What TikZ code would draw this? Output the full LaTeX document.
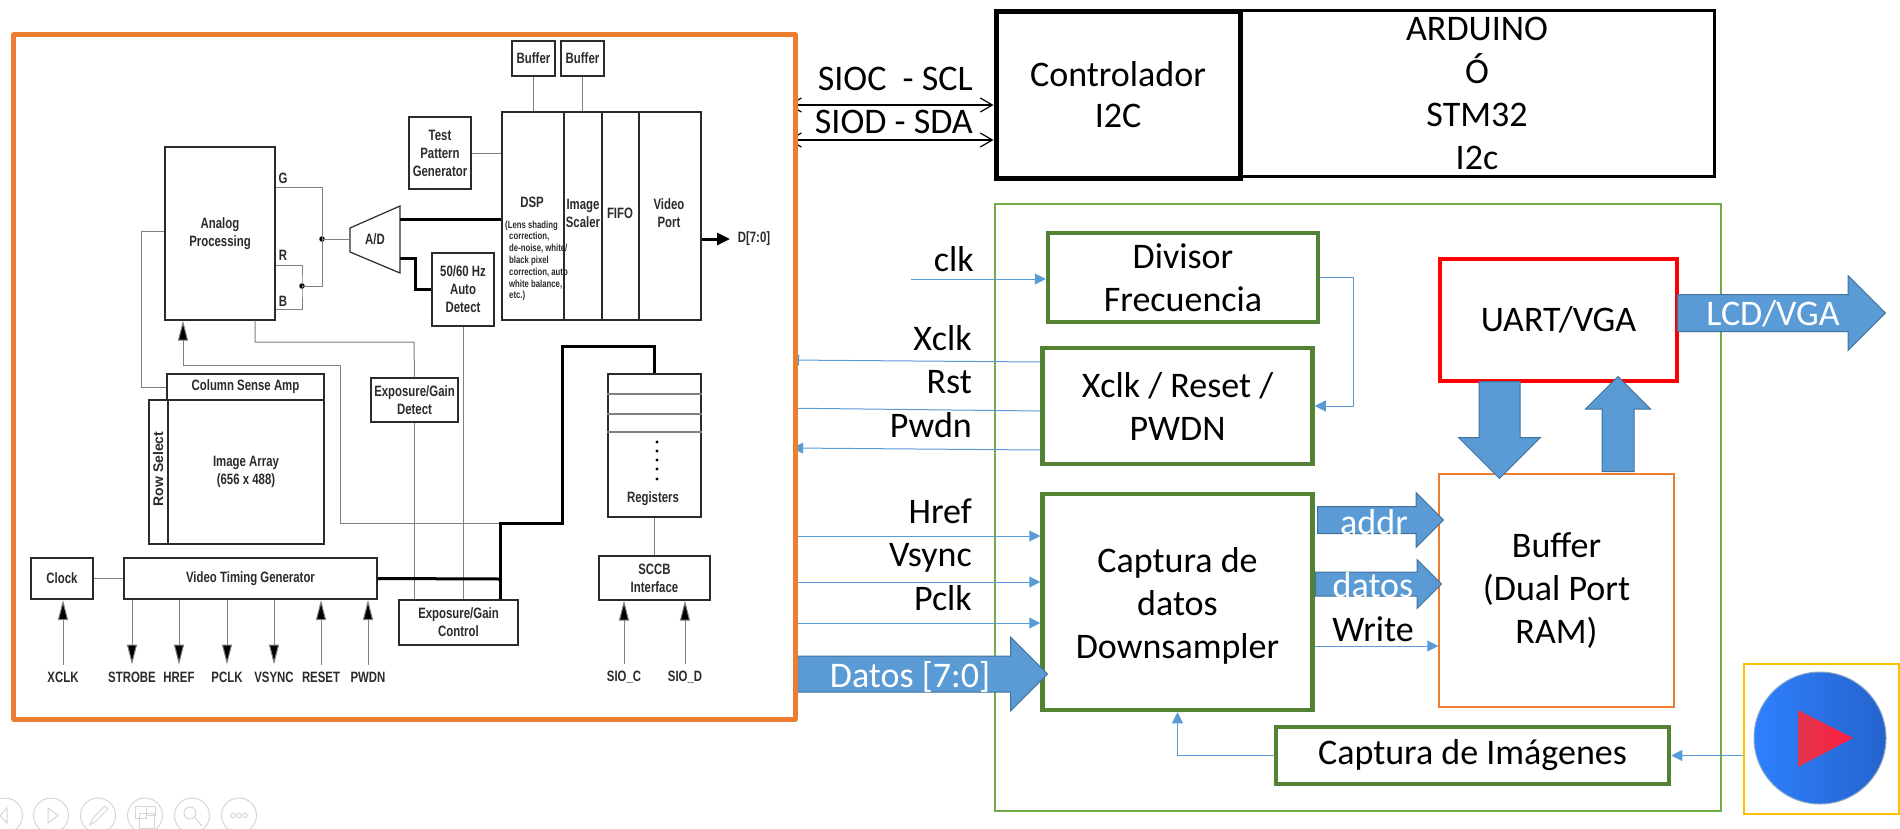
\documentclass[tikz,border=0pt]{standalone}
\usepackage{fontspec}
\usetikzlibrary{arrows.meta, shapes.arrows}
\setmainfont{Carlito}
\newfontfamily\chipfont[FakeStretch=0.76]{Liberation Sans}
\newfontfamily\rowfont{Liberation Sans}

\definecolor{framecol}{HTML}{ED7D31}
\definecolor{blockcol}{HTML}{548235}
\definecolor{outercol}{HTML}{70AD47}
\definecolor{buscol}{HTML}{5B9BD5}
\definecolor{busedge}{HTML}{41719C}
\definecolor{chipink}{HTML}{2B2B2B}
\definecolor{wirecol}{HTML}{808080}
\definecolor{toolcol}{HTML}{D6D6D6}
\definecolor{playedge}{HTML}{FFC000}
\definecolor{diskleft}{HTML}{2E80FF}
\definecolor{diskright}{HTML}{2563CC}
\definecolor{playleft}{HTML}{E0354D}
\definecolor{playright}{HTML}{FF2040}

\begin{document}
\begin{tikzpicture}[x=1pt,y=-1pt,
        bigtext/.style={font=\fontsize{36}{43}\selectfont, align=center, inner sep=0pt},
        sigtext/.style={bigtext, anchor=east},
        greenblock/.style={bigtext, draw=blockcol, line width=4.5pt, fill=white},
        blackblock/.style={bigtext, draw=black},
        sigline/.style={draw=buscol, line width=1pt, -{Triangle[length=11pt,width=11pt]}},
        i2cline/.style={draw=black, line width=1.2pt, {Straight Barb[length=12pt,width=14pt]}-{Straight Barb[length=12pt,width=14pt]}},
        busarrow/.style={single arrow, draw=busedge, line width=1pt, fill=buscol, inner xsep=0pt, anchor=tail},
        buslabel/.style={bigtext, text=white},
        chiptext/.style={font=\chipfont\bfseries\fontsize{15}{18}\selectfont, text=chipink, align=center, inner sep=0pt},
        chipbox/.style={chiptext, draw=chipink, line width=1.2pt},
        wire/.style={draw=wirecol, line width=1pt},
        thickwire/.style={draw=black, line width=3pt},
        chipin/.style={wire, -{Triangle[length=20pt,width=10pt,fill=black]}},
        jointdot/.style={circle, fill=black, inner sep=0pt, minimum size=5.5pt}]
    \useasboundingbox (0,0) rectangle (1900,828);

    % right hand side
    \node[draw=outercol, line width=1.4pt, minimum width=726pt, minimum height=607pt] (fpga) at (1358,507.5) {};
    \node[blackblock, line width=3pt, minimum width=474pt, minimum height=166pt] (arduino) at (1477,93) {ARDUINO\\Ó\\STM32\\I2c};
    \node[blackblock, line width=5pt, minimum width=244pt, minimum height=167pt, font=\fontsize{36}{41}\selectfont] (ctrl) at (1118,94.5) {Controlador\\I2C};
    \node[greenblock, minimum width=270pt, minimum height=89pt] (divisor) at (1183,277.5) {Divisor\\Frecuencia};
    \node[greenblock, minimum width=270pt, minimum height=116pt] (xclkblk) at (1177.5,406) {Xclk / Reset /\\PWDN};
    \node[greenblock, minimum width=270pt, minimum height=216pt] (captura) at (1177.5,602) {\rule{0pt}{33pt}Captura de\\datos\\Downsampler};
    \node[greenblock, minimum width=393pt, minimum height=57pt] (capimg) at (1472.5,755.5) {Captura de Imágenes};
    \node[bigtext, draw=framecol, line width=1.5pt, minimum width=235pt, minimum height=233pt] (buffer) at (1556.5,590.5) {Buffer\\(Dual Port\\RAM)};
    \node[bigtext, draw=red, line width=4.5pt, minimum width=237pt, minimum height=122pt] (uart) at (1558.5,320) {UART/VGA};
    \node[draw=playedge, line width=1.5pt, minimum width=155pt, minimum height=150pt] (playbox) at (1821.5,739) {};
    \node[circle, draw=busedge!60, line width=1pt, left color=diskleft, right color=diskright, minimum size=132pt] (playdisk) at (1820,738) {};
    \shade[left color=playleft, right color=playright] (1798,710) -- (1853,738) -- (1798,767) -- cycle;

    % hidden behind the frame drawn later
    \node[inner sep=0pt, minimum width=781pt, minimum height=684pt] (camara) at (404.5,377) {};

    \draw[i2cline] ([xshift=-7pt]camara.east |- 0,105) -- (ctrl.west |- 0,105);
    \draw[i2cline] ([xshift=-7pt]camara.east |- 0,140) -- (ctrl.west |- 0,140);
    \node[sigtext] (sioc) at (973,79) {SIOC\ \ - SCL};
    \node[sigtext] (siod) at (973,122) {SIOD - SDA};

    \coordinate (clkin) at (911,279);
    \draw[sigline] (clkin) -- (divisor.west |- clkin);
    \node[sigtext] (clk) at (974,259) {clk};
    \draw[sigline] (xclkblk.west |- 0,362) -- ([xshift=-7pt]camara.east |- 0,360);
    \draw[sigline] (xclkblk.west |- 0,411) -- ([xshift=-20pt]camara.east |- 0,408);
    \draw[sigline] (xclkblk.west |- 0,450) -- ([xshift=-3pt]camara.east |- 0,448);
    \node[sigtext] (xclk) at (972,338) {Xclk};
    \node[sigtext] (rst) at (972,382) {Rst};
    \node[sigtext] (pwdn) at (972,425) {Pwdn};
    \draw[sigline] (camara.east |- 0,536) -- (captura.west |- 0,536);
    \draw[sigline] (camara.east |- 0,582) -- (captura.west |- 0,582);
    \draw[sigline] (camara.east |- 0,623) -- (captura.west |- 0,623);
    \node[sigtext] (hrefsig) at (972,511) {Href};
    \node[sigtext] (vsyncsig) at (972,558) {Vsync};
    \node[sigtext] (pclksig) at (972,598) {Pclk};

    \draw[sigline] (divisor.east) -- (1353,277.5) |- (xclkblk.east);
    \draw[sigline] (capimg.west) -| (captura.south);
    \draw[sigline] (playbox.west |- capimg.east) -- (capimg.east);
    \draw[sigline] (captura.east |- 0,646) -- (buffer.west |- 0,646);
    \node[bigtext] (write) at (1373,629) {Write};

    \node[busarrow, inner ysep=17.5pt, minimum height=250pt, minimum width=73pt, single arrow head extend=19pt] (datosbus) at (797,674) {};
    \node[buslabel] (datoslab) at (910,677) {Datos [7:0]};
    \node[busarrow, inner ysep=13pt, minimum height=126pt, minimum width=54pt, single arrow head extend=14pt] (addrbus) at (1317,520) {};
    \node[buslabel] (addrlab) at (1374,522) {addr};
    \node[busarrow, inner ysep=11.5pt, minimum height=126pt, minimum width=48pt, single arrow head extend=12.5pt] (datbus) at (1315,584) {};
    \node[buslabel] (datlab) at (1373,585) {datos};
    \node[busarrow, inner ysep=18pt, minimum height=208pt, minimum width=74pt, single arrow head extend=19pt] (lcdbus) at (1677,313) {};
    \node[buslabel] (lcdlab) at (1773,314) {LCD/VGA};
    \node[busarrow, rotate=-90, inner ysep=20pt, minimum height=97pt, minimum width=81pt, single arrow head extend=20.5pt] (downbus) at (1499.5,381) {};
    \node[busarrow, rotate=90, inner ysep=15.5pt, minimum height=95pt, minimum width=64pt, single arrow head extend=16.5pt] (upbus) at (1618,472) {};

    % the camera block
    \draw[framecol, line width=4.8pt, fill=white, line join=round] (camara.north west) rectangle (camara.south east);

    \node[chipbox, minimum width=110pt, minimum height=173pt] (analog) at (220,233.5) {Analog\\Processing};
    \node[chipbox, minimum width=62pt, minimum height=72pt] (testgen) at (440,153) {Test\\Pattern\\Generator};
    \node[chipbox, minimum width=43pt, minimum height=35pt] (bufa) at (533.5,58.5) {Buffer};
    \node[chipbox, minimum width=43pt, minimum height=35pt] (bufb) at (582.5,58.5) {Buffer};
    \node[chipbox, minimum width=62pt, minimum height=208pt] (dsp) at (533,216) {};
    \node[chipbox, minimum width=38pt, minimum height=208pt] (scaler) at (583,216) {};
    \node[chipbox, minimum width=37pt, minimum height=208pt] (fifo) at (620.5,216) {};
    \node[chipbox, minimum width=62pt, minimum height=208pt] (vport) at (670,216) {};
    \node[chiptext] (dsplab) at (532,202) {DSP};
    \node[chiptext, font=\chipfont\bfseries\fontsize{10.2}{11.8}\selectfont, align=left, anchor=north west] (dspnote) at (505,220.5) {(Lens shading\\\hspace*{4pt}correction,\\\hspace*{4pt}de-noise, white/\\\hspace*{4pt}black pixel\\\hspace*{4pt}correction, auto\\\hspace*{4pt}white balance,\\\hspace*{4pt}etc.)};
    \node[chiptext] (scalerlab) at (583,213) {Image\\Scaler};
    \node[chiptext] (fifolab) at (620,213) {FIFO};
    \node[chiptext] (vportlab) at (669,213) {Video\\Port};
    \node[chiptext] (dout) at (754,239) {D[7:0]};
    \node[chipbox, minimum width=62pt, minimum height=73pt] (detect) at (463,289.5) {50/60 Hz\\Auto\\Detect};
    \node[chiptext] (adc) at (375,239) {A/D};
    \draw[chipbox] (350,228) -- (400,206) -- (400,273) -- (350,252) -- cycle;
    \node[chiptext] (glab) at (283,178) {G};
    \node[chiptext] (rlab) at (283,255) {R};
    \node[chiptext] (blab) at (283,301) {B};
    \node[chipbox, minimum width=157pt, minimum height=26pt] (column) at (245.5,387) {Column Sense Amp};
    \node[chipbox, minimum width=156pt, minimum height=144pt] (imgarray) at (246,472) {Image Array\\(656 x 488)};
    \node[chipbox, minimum width=19pt, minimum height=144pt] (rowsel) at (158.5,472) {};
    \node[chiptext, rotate=90, font=\rowfont\bfseries\fontsize{14}{18}\selectfont] (rowlab) at (158,469) {Row Select};
    \node[chipbox, minimum width=87pt, minimum height=44pt] (expdet) at (414.5,400) {Exposure/Gain\\Detect};
    \node[chipbox, minimum width=119pt, minimum height=45pt] (control) at (458.5,622.5) {Exposure/Gain\\Control};
    \node[chipbox, minimum width=62pt, minimum height=41pt] (clock) at (62,578.5) {Clock};
    \node[chipbox, minimum width=253pt, minimum height=41pt] (vtg) at (250.5,578.5) {Video Timing Generator};
    \node[chipbox, minimum width=93pt, minimum height=143pt] (registers) at (654.5,445.5) {};
    \node[chiptext] (reglab) at (653,499) {Registers};
    \node[chipbox, minimum width=111pt, minimum height=44pt] (sccb) at (654.5,578) {SCCB\\Interface};

    \foreach \rowy in {394,414,432}
        \draw[wire, line width=1.2pt] (registers.west |- 0,\rowy) -- (registers.east |- 0,\rowy);
    \foreach \doty in {442,451,460,469,479}
        \fill[black] (657,\doty) circle [radius=1.6pt];

    \draw[wire] (bufa) -- (dsp.north -| bufa);
    \draw[wire] (bufb) -- (scaler.north -| bufb);
    \draw[wire] (testgen.east) -- (dsp.west |- testgen.east);
    \draw[thickwire] (400,219) -- (dsp.west |- 0,219);
    \draw[thickwire] (400,258) -- (415,258) |- (detect.west);
    \draw[thickwire, -{Triangle[length=13pt,width=12pt]}] (vport.east |- dout) -- (730,239);

    % G, R and B meet at two dots
    \coordinate (jrb) at (302,286);
    \coordinate (jad) at (322,239);
    \node[jointdot] (dotrb) at (jrb) {};
    \node[jointdot] (dotad) at (jad) {};
    \draw[wire] (analog.east |- 0,187) -| (jad) -- (350,239);
    \draw[wire] (jad) |- (jrb);
    \draw[wire] (analog.east |- 0,265) -| (jrb) |- (analog.east |- 0,309);
    \draw[wire] (analog.west |- 0,231) -| (141,387) -- (column.west |- 0,387);

    \coordinate (jfeed) at (500,523);
    \coordinate (jbus) at (500,579);
    \draw[chipin] (340,523) -- (340,365) -| (analog.south -| 183,0);
    \draw[wire] (340,523) -- (jfeed);
    \draw[wire] (analog.south -| 255,0) |- (414,342) -- (expdet.north);
    \draw[wire] (expdet.south) -- (control.north -| expdet.south);
    \draw[wire] (detect.south) -- (control.north -| detect.south);
    \draw[wire] (clock.east) -- (vtg.west);
    \draw[thickwire] (vtg.east) -- (jbus);
    \draw[thickwire, line join=miter] (control.north -| jbus) -- (jfeed) -| (562,346) -| (registers.north);
    \draw[wire] (registers.south) -- (sccb.north);

    % pins of the sensor
    \foreach \pname/\ptext/\px in {xclkpin/XCLK/63, resetpin/RESET/321, pwdnpin/PWDN/368} {
        \node[chiptext] (\pname) at (\px,677) {\ptext};
        \draw[chipin] ([yshift=7pt]\pname.north) -- (0,600 -| \pname.north);
    }
    \foreach \pname/\ptext/\px in {strobepin/STROBE/132, hrefpin/HREF/179, pclkpin/PCLK/227, vsyncpin/VSYNC/274} {
        \node[chiptext] (\pname) at (\px,677) {\ptext};
        \draw[chipin] (vtg.south -| \pname.north) -- ([yshift=7pt]\pname.north);
    }
    \foreach \pname/\ptext/\px in {siocpin/SIO\_C/624, siodpin/SIO\_D/685} {
        \node[chiptext] (\pname) at (\px,677) {\ptext};
        \draw[chipin] ([yshift=7pt]\pname.north) -- (sccb.south -| \pname.north);
    }

    % slide show toolbar
    \foreach \toolx in {5,51,98,145,192,239}
        \draw[toolcol, line width=1pt] (\toolx,815.5) circle [radius=17.5pt];
    \draw[toolcol, line width=1pt] (7,808) -- (0,815.5) -- (7,823) -- cycle;
    \draw[toolcol, line width=1pt] (48,808) -- (58,815.5) -- (48,823) -- cycle;
    \draw[toolcol, line width=1pt] (90,825) -- (93,818) -- (105,806) -- (108,809) -- (96,821) -- cycle;
    \draw[toolcol, line width=1pt] (135,806) rectangle (146,818) (146,806) rectangle (155,815) (139,813) rectangle (154,828);
    \draw[toolcol, line width=1pt] (190,813) circle [radius=6pt] (195,818) -- (202,826);
    \foreach \toolx in {233,239,245}
        \draw[toolcol, line width=1pt] (\toolx,815.5) circle [radius=2.3pt];
\end{tikzpicture}
\end{document}
